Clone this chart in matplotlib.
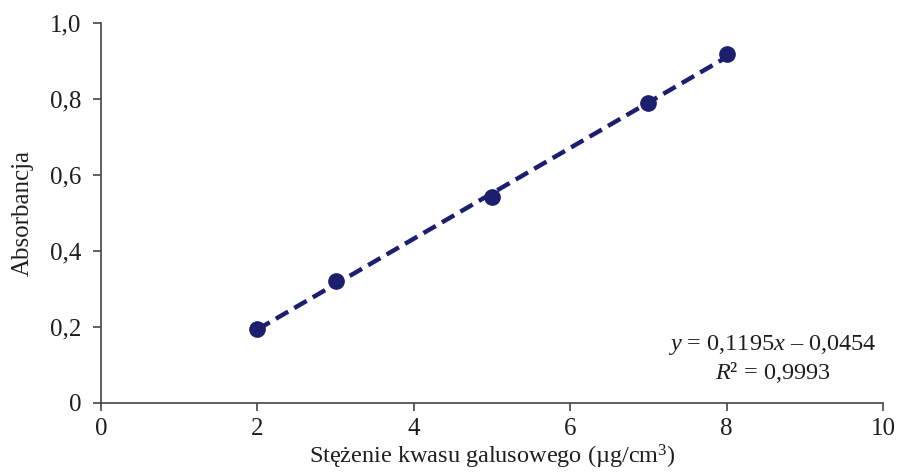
import matplotlib
matplotlib.use("Agg")
import matplotlib.pyplot as plt
import numpy as np
from matplotlib.ticker import FuncFormatter

plt.rcParams["font.family"] = ["Liberation Serif", "DejaVu Serif"]
plt.rcParams["mathtext.fontset"] = "custom"
plt.rcParams["mathtext.rm"] = "Liberation Serif"
plt.rcParams["mathtext.it"] = "Liberation Serif:italic"

# Calibration data: gallic acid concentration vs absorbance
concentration = [2, 3, 5, 7, 8]
absorbance = [0.194, 0.321, 0.542, 0.789, 0.920]

# Linear fit coefficients
slope = 0.1195
intercept = -0.0454
r_squared = 0.9993

navy = "#1b1f6d"
axis_color = "#444444"
text_color = "#1e1e1e"

fig = plt.figure(figsize=(8.98, 4.73), dpi=100)
ax = fig.add_axes([0.1125, 0.148, 0.8708, 0.803])

xfit = np.array([min(concentration), max(concentration)])
ax.plot(xfit, slope * xfit + intercept, color=navy, lw=3.2,
        linestyle=(0, (3.2, 1.6)), dash_capstyle="butt", zorder=2)
ax.plot(concentration, absorbance, "o", color=navy, markersize=11, zorder=3)

ax.set_xlim(0, 10)
ax.set_ylim(0, 1.0)
ax.set_xticks([0, 2, 4, 6, 8, 10])
ax.set_yticks([0, 0.2, 0.4, 0.6, 0.8, 1.0])


def comma_fmt(v, pos):
    if abs(v) < 1e-9:
        return "0"
    return f"{v:.1f}".replace(".", ",")


ax.xaxis.set_major_formatter(FuncFormatter(lambda v, p: f"{int(round(v))}"))
ax.yaxis.set_major_formatter(FuncFormatter(comma_fmt))

for side in ("top", "right"):
    ax.spines[side].set_visible(False)
for side in ("left", "bottom"):
    ax.spines[side].set_color(axis_color)
    ax.spines[side].set_linewidth(1.2)

ax.tick_params(axis="both", direction="out", length=6, width=1.2,
               color=axis_color, labelsize=18, labelcolor=text_color)
ax.tick_params(axis="x", pad=5)
ax.tick_params(axis="y", pad=8)

ax.set_xlabel("Stężenie kwasu galusowego (µg/cm$^3$)", fontsize=17.5,
              color=text_color, labelpad=2)
ax.set_ylabel("Absorbancja", fontsize=18, color=text_color, labelpad=12)

eq1 = f"$y$ = {str(slope).replace('.', ',')}$x$ – {str(abs(intercept)).replace('.', ',')}"
eq2 = f"$R$² = {str(r_squared).replace('.', ',')}"
ax.text(0.859, 0.152, eq1, transform=ax.transAxes, ha="center", va="center",
        fontsize=17.5, color=text_color)
ax.text(0.859, 0.080, eq2, transform=ax.transAxes, ha="center", va="center",
        fontsize=17.5, color=text_color)

fig.savefig("out.png", dpi=100)
